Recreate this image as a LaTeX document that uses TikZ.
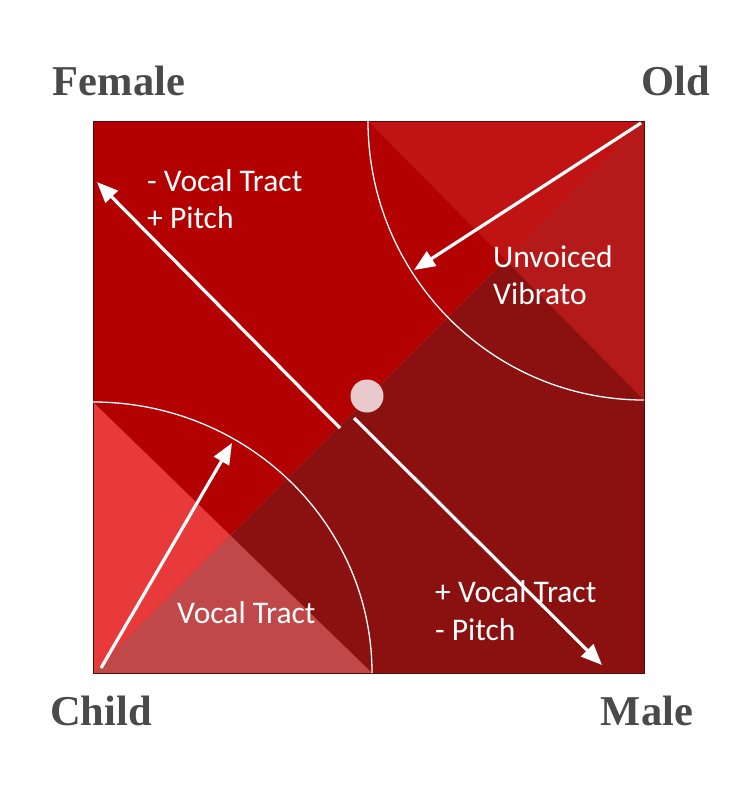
\documentclass[tikz,border=0pt]{standalone}
\usepackage{fontspec}
\setmainfont{Carlito}
\newfontfamily\cornerfont{Liberation Serif}
\usetikzlibrary{arrows.meta}
\definecolor{femalered}{HTML}{B30000}
\definecolor{malered}{HTML}{8B1111}
\definecolor{oldtop}{HTML}{C01414}
\definecolor{oldside}{HTML}{B51A1A}
\definecolor{childleft}{HTML}{E83A3A}
\definecolor{childbottom}{HTML}{C04848}
\definecolor{dotpink}{HTML}{E8CACC}
\definecolor{cornergray}{HTML}{4A4A4A}

\begin{document}
\begin{tikzpicture}[x=1pt,y=-1pt,
    axisarrow/.style={white, line width=3.2pt, -{Triangle[length=21pt,width=17pt]}},
    arcline/.style={white, line width=1.3pt},
    inlabel/.style={white, font=\fontsize{31.5}{37}\selectfont, anchor=base west, inner sep=0pt},
    cornerlabel/.style={cornergray, font=\cornerfont\bfseries\fontsize{42.5}{48}\selectfont, anchor=base, inner sep=0pt}]
    \useasboundingbox (0,0) rectangle (754,803);
    % corners of the square and of the two quarter discs
    \coordinate (sw) at (93,673);
    \coordinate (ne) at (644,121);
    \coordinate (nw) at (93,121);
    \coordinate (se) at (644,673);
    \coordinate (oldarcstart) at (368,121);
    \coordinate (oldarcend) at (644,400);
    \coordinate (childarcstart) at (93,402);
    \coordinate (childarcend) at (372,673);
    \coordinate (oldmid) at (intersection of sw--ne and oldarcstart--oldarcend);
    \coordinate (childmid) at (intersection of sw--ne and childarcstart--childarcend);
    % fills
    \fill[femalered] (nw) -- (ne) -- (sw) -- cycle;
    \fill[malered] (ne) -- (se) -- (sw) -- cycle;
    \fill[oldtop] (oldarcstart) -- (ne) -- (oldmid) -- cycle;
    \fill[oldside] (ne) -- (oldarcend) -- (oldmid) -- cycle;
    \fill[childleft] (childarcstart) -- (sw) -- (childmid) -- cycle;
    \fill[childbottom] (sw) -- (childarcend) -- (childmid) -- cycle;
    \draw[malered!60!black, line width=0.8pt] (nw) rectangle (se);
    \draw[arcline] (oldarcstart) arc[start angle=180, end angle=90, x radius=276, y radius=279];
    \draw[arcline] (childarcstart) arc[start angle=270, end angle=360, x radius=279, y radius=271];
    % centre dot
    \node[circle, fill=dotpink, inner sep=0pt, minimum size=33pt] (centre) at (367,396) {};
    % arrows
    \coordinate (femaletail) at (340,428);
    \coordinate (femaletip) at (97,182);
    \coordinate (maletail) at (354,418);
    \coordinate (maletip) at (602,665);
    \coordinate (oldtail) at (641,123);
    \coordinate (oldtip) at (414,270);
    \coordinate (childtail) at (101,668);
    \coordinate (childtip) at (232,443);
    \draw[axisarrow] (femaletail) -- (femaletip);
    \draw[axisarrow] (maletail) -- (maletip);
    \draw[axisarrow] (oldtail) -- (oldtip);
    \draw[axisarrow] (childtail) -- (childtip);
    % texts
    \node[inlabel] (femaleA) at (147,191) {- Vocal Tract};
    \node[inlabel] (femaleB) at (147,228) {+ Pitch};
    \node[inlabel] (oldA) at (493,267) {Unvoiced};
    \node[inlabel] (oldB) at (493,304) {Vibrato};
    \node[inlabel] (childA) at (177,623) {Vocal Tract};
    \node[inlabel] (maleA) at (435,602) {+ Vocal Tract};
    \node[inlabel] (maleB) at (435,640) {- Pitch};
    \node[cornerlabel] (female) at (119,95) {Female};
    \node[cornerlabel] (old) at (676,95) {Old};
    \node[cornerlabel] (child) at (101,725) {Child};
    \node[cornerlabel] (male) at (647,725) {Male};
\end{tikzpicture}
\end{document}
